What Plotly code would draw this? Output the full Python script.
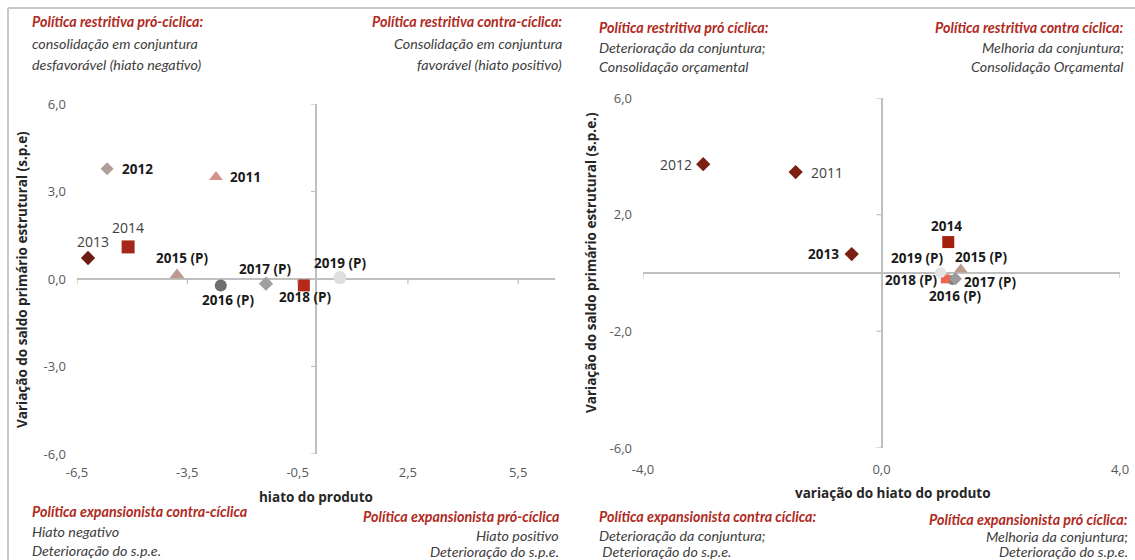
import plotly.graph_objects as go

W, H = 1135, 560

# ---------------- data ----------------
years = ["2011", "2012", "2013", "2014", "2015 (P)", "2016 (P)", "2017 (P)", "2018 (P)", "2019 (P)"]

# left: hiato do produto vs variação do s.p.e.
left_x = [-2.72, -5.68, -6.2, -5.11, -3.78, -2.59, -1.36, -0.33, 0.65]
left_y = [3.5, 3.78, 0.72, 1.1, 0.14, -0.22, -0.16, -0.22, 0.05]

# right: variação do hiato do produto vs variação do s.p.e.
right_x = [-1.44, -2.99, -0.5, 1.12, 1.33, 1.19, 1.24, 1.07, 0.99]
right_y = [3.46, 3.73, 0.65, 1.06, 0.12, -0.24, -0.2, -0.2, 0.02]

left_xticks = [-6.5, -3.5, -0.5, 2.5, 5.5]
left_xtext = ["-6,5", "-3,5", "-0,5", "2,5", "5,5"]
left_yticks = [-6, -3, 0, 3, 6]
left_ytext = ["-6,0", "-3,0", "0,0", "3,0", "6,0"]
right_xticks = [-4, 0, 4]
right_xtext = ["-4,0", "0,0", "4,0"]
right_yticks = [-6, -2, 2, 6]
right_ytext = ["-6,0", "-2,0", "2,0", "6,0"]

# ---------------- styles ----------------
left_style = [
    dict(symbol="triangle-up", color="#d4928b", size=12),
    dict(symbol="diamond", color="#b39c9c", size=10),
    dict(symbol="diamond", color="#6b1d12", size=11),
    dict(symbol="square", color="#a3271a", size=13),
    dict(symbol="triangle-up", color="#bb9a90", size=13),
    dict(symbol="circle", color="#6e6e6e", size=12),
    dict(symbol="diamond", color="#a0a0a0", size=11),
    dict(symbol="square", color="#b5291a", size=12),
    dict(symbol="circle", color="#dedede", size=13),
]
right_style = [
    dict(symbol="diamond", color="#7a1f12", size=11),
    dict(symbol="diamond", color="#7a1f12", size=11),
    dict(symbol="diamond", color="#7a1f12", size=11),
    dict(symbol="square", color="#a3200f", size=12),
    dict(symbol="triangle-up", color="#bb9a90", size=12),
    dict(symbol="circle", color="#808080", size=10),
    dict(symbol="diamond", color="#9a9a9a", size=10),
    dict(symbol="square", color="#ea6650", size=9),
    dict(symbol="circle", color="#e4e4e4", size=11),
]
# label offsets (pixels, dx right, dy down) and bold flag
left_lab = [(30, 0, True), (30, 0, True), (5, -17, False), (0, -19, False), (5, -17, True),
            (7, 15, True), (-1, -15, True), (1, 12, True), (0, -15, True)]
right_lab = [(31, 0, False), (-27, 0, False), (-28, 0, True), (-2, -16, True), (20, -13, True),
             (3, 16, True), (35, 3, True), (-34, 1, True), (-24, -14, True)]

RED = "#b02a1e"
GREY_TXT = "#404040"
FONT = "Lato"
TXT_SIZE = 14.3


def fx(px):
    return px / W


def fy(py):
    return 1 - py / H


fig = go.Figure()
annotations = []
shapes = []

for xs, ys, styles, labs, xa, ya in [
    (left_x, left_y, left_style, left_lab, "x", "y"),
    (right_x, right_y, right_style, right_lab, "x2", "y2"),
]:
    for i, yr in enumerate(years):
        st = styles[i]
        fig.add_trace(go.Scatter(
            x=[xs[i]], y=[ys[i]], mode="markers", xaxis=xa, yaxis=ya,
            marker=dict(symbol=st["symbol"], color=st["color"], size=st["size"], line=dict(width=0)),
            showlegend=False, hoverinfo="skip"))
        dx, dy, bold = labs[i]
        annotations.append(dict(
            x=xs[i], y=ys[i], xref=xa, yref=ya, text=f"<b>{yr}</b>" if bold else yr,
            showarrow=False, xshift=dx, yshift=-dy, xanchor="center", yanchor="middle",
            font=dict(family="Open Sans, Lato", size=13.5 if bold else 14,
                      color="#1a1a1a" if bold else "#404040")))

axis_common = dict(showgrid=False, showline=False, ticks="", zeroline=True, automargin=False,
                   zerolinecolor="#bfbfbf", zerolinewidth=1.5,
                   tickfont=dict(family="Open Sans, Lato", size=13, color="#595959"), fixedrange=True)

fig.update_layout(
    width=W, height=H, margin=dict(l=0, r=0, t=0, b=0, autoexpand=False),
    paper_bgcolor="white", plot_bgcolor="white", showlegend=False,
    xaxis=dict(domain=[fx(77), fx(555)], range=[-6.5, 6.5], tickmode="array",
               tickvals=left_xticks, ticktext=left_xtext, anchor="y", ticklabelstandoff=9, **axis_common),
    yaxis=dict(domain=[fy(454), fy(104)], range=[-6, 6], tickmode="array",
               tickvals=left_yticks, ticktext=left_ytext, anchor="x", ticklabelstandoff=10, **axis_common),
    xaxis2=dict(domain=[fx(643), fx(1120)], range=[-4, 4], tickmode="array",
                tickvals=right_xticks, ticktext=right_xtext, anchor="y2", ticklabelstandoff=12, **axis_common),
    yaxis2=dict(domain=[fy(448), fy(98)], range=[-6, 6], tickmode="array",
                tickvals=right_yticks, ticktext=right_ytext, anchor="x2", ticklabelstandoff=10, **axis_common),
)

# tick marks on the crossing axes
for xa, ya, xt, yt in [("x", "y", left_xticks, left_yticks), ("x2", "y2", right_xticks, right_yticks)]:
    for t in yt:
        shapes.append(dict(type="line", xref=xa, yref=ya, xsizemode="pixel", xanchor=0,
                           x0=-5, x1=0, y0=t, y1=t, line=dict(color="#bfbfbf", width=1.2)))
    for t in xt:
        shapes.append(dict(type="line", xref=xa, yref=ya, ysizemode="pixel", yanchor=0,
                           x0=t, x1=t, y0=0, y1=-5, line=dict(color="#bfbfbf", width=1.2)))

# frame
shapes.append(dict(type="line", xref="paper", yref="paper", x0=fx(8), x1=1, y0=fy(8), y1=fy(8),
                   line=dict(color="#c8c8c8", width=2)))
shapes.append(dict(type="line", xref="paper", yref="paper", x0=fx(8), x1=fx(8), y0=0, y1=fy(8),
                   line=dict(color="#c8c8c8", width=2)))

# quadrant text blocks: (x_px, anchor, [(y_px, text, red)])
blocks = [
    (30, "left", [(22, "Política restritiva pró-cíclica:", True),
                  (44, "consolidação em conjuntura", False),
                  (64, "desfavorável (hiato negativo)", False)]),
    (564, "right", [(22, "Política restritiva contra-cíclica:", True),
                    (44, "Consolidação em conjuntura", False),
                    (64, "favorável (hiato positivo)", False)]),
    (30, "left", [(511, "Política expansionista contra-cíclica", True),
                  (531, "Hiato negativo", False),
                  (550, "Deterioração do s.p.e.", False)]),
    (561, "right", [(516, "Política expansionista pró-cíclica", True),
                    (535, "Hiato positivo", False),
                    (551, "Deterioração do s.p.e.", False)]),
    (597, "left", [(27, "Política restritiva pró cíclica:", True),
                   (47, "Deterioração da conjuntura;", False),
                   (66, "Consolidação orçamental", False)]),
    (1126, "right", [(27, "Política restritiva contra cíclica:", True),
                     (47, "Melhoria da conjuntura;", False),
                     (66, "Consolidação Orçamental", False)]),
    (597, "left", [(516, "Política expansionista contra cíclica:", True),
                   (535, "Deterioração da conjuntura;", False),
                   (551, " Deterioração do s.p.e.", False)]),
    (1130, "right", [(519, "Política expansionista pró cíclica:", True),
                     (536, "Melhoria da conjuntura;", False),
                     (551, "Deterioração do s.p.e.", False)]),
]
for xp, anc, lines in blocks:
    for yp, txt, red in lines:
        annotations.append(dict(
            x=fx(xp), y=fy(yp), xref="paper", yref="paper", xanchor=anc, yanchor="middle",
            showarrow=False, text=f"<b><i>{txt}</i></b>" if red else f"<i>{txt}</i>",
            font=dict(family=FONT, size=TXT_SIZE, color=RED if red else GREY_TXT)))

# axis titles
title_font = dict(family="Open Sans, Lato", size=13.5, color="#262626")
annotations += [
    dict(x=fx(316), y=fy(497), xref="paper", yref="paper", showarrow=False, xanchor="center",
         yanchor="middle", text="<b>hiato do produto</b>", font=title_font),
    dict(x=fx(893), y=fy(493), xref="paper", yref="paper", showarrow=False, xanchor="center",
         yanchor="middle", text="<b>variação do hiato do produto</b>", font=title_font),
    dict(x=fx(22), y=fy(280), xref="paper", yref="paper", showarrow=False, textangle=-90,
         xanchor="center", yanchor="middle",
         text="<b>Variação do saldo primário estrutural (s.p.e)</b>", font=title_font),
    dict(x=fx(591), y=fy(263), xref="paper", yref="paper", showarrow=False, textangle=-90,
         xanchor="center", yanchor="middle",
         text="<b>Variação do saldo primário estrutural (s.p.e.)</b>", font=title_font),
]

fig.update_layout(annotations=annotations, shapes=shapes)
fig.write_html("out.html")
